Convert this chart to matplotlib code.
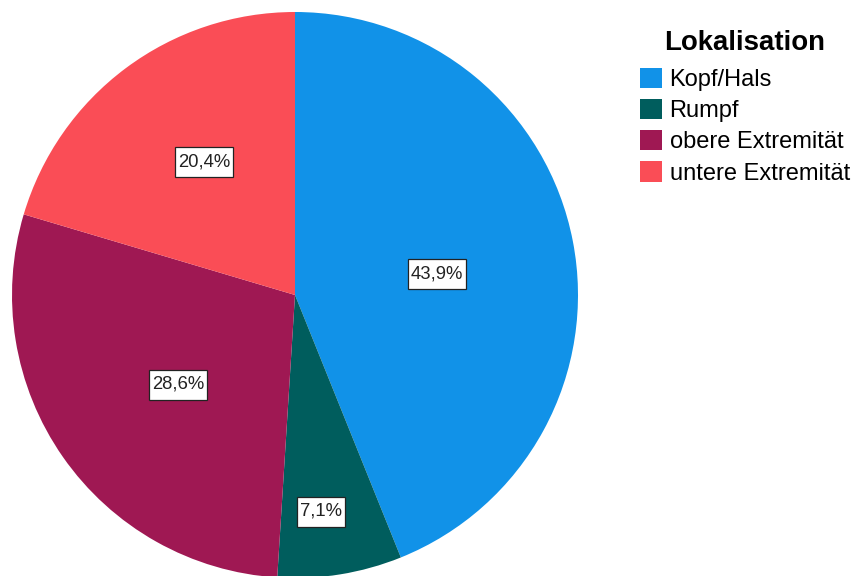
import matplotlib
matplotlib.use("Agg")
import matplotlib.pyplot as plt
from matplotlib.patches import Rectangle
import numpy as np

categories = ["Kopf/Hals", "Rumpf", "obere Extremität", "untere Extremität"]
values = [43.9, 7.1, 28.6, 20.4]
labels = ["43,9%", "7,1%", "28,6%", "20,4%"]
colors = ["#1192E8", "#005D5D", "#9F1853", "#FA4D56"]
label_dist = [0.507, 0.77, 0.52, 0.57]
label_shift = [-2.4, -2.2, 2.4, -2.5]

plt.rcParams['font.family'] = ['Liberation Sans', 'DejaVu Sans']

W, H = 855, 576
fig = plt.figure(figsize=(W / 100, H / 100), dpi=100)
ax = fig.add_axes([0, 0, 1, 1])

cx, cy, r = 295, H - 295, 283
wedges, _ = ax.pie(values, colors=colors, startangle=90, counterclock=False,
                   center=(cx, cy), radius=r, frame=True,
                   wedgeprops=dict(linewidth=0))
ax.set_xlim(0, W)
ax.set_ylim(0, H)
ax.set_aspect('auto')
ax.axis('off')

renderer = fig.canvas.get_renderer()
for w, lab, d, s in zip(wedges, labels, label_dist, label_shift):
    ang = np.deg2rad((w.theta1 + w.theta2) / 2 + s)
    x = cx + d * r * np.cos(ang)
    y = cy + d * r * np.sin(ang)
    t = ax.text(x, y, lab, ha='center', va='center', fontsize=13.3,
                color='#222222', zorder=5)
    bb = t.get_window_extent(renderer)
    bw = bb.width + 6
    bh = 30
    ax.add_patch(Rectangle((x - bw / 2, y - bh / 2 - 0.5), bw, bh,
                           facecolor='white', edgecolor='#222222',
                           linewidth=0.9, zorder=4))

leg = ax.legend(wedges, categories, title="Lokalisation", loc='upper left',
                bbox_to_anchor=(640 / W, 1 - 30 / H), bbox_transform=fig.transFigure,
                frameon=False, fontsize=17, title_fontsize=19.9,
                handlelength=0.95, handleheight=0.95, handletextpad=0.3,
                labelspacing=0.335, borderpad=0, borderaxespad=0)
leg.get_title().set_fontweight('bold')
leg._legend_box.align = "center"
leg._legend_box.sep = 8.4

fig.savefig("out.png", dpi=100)
